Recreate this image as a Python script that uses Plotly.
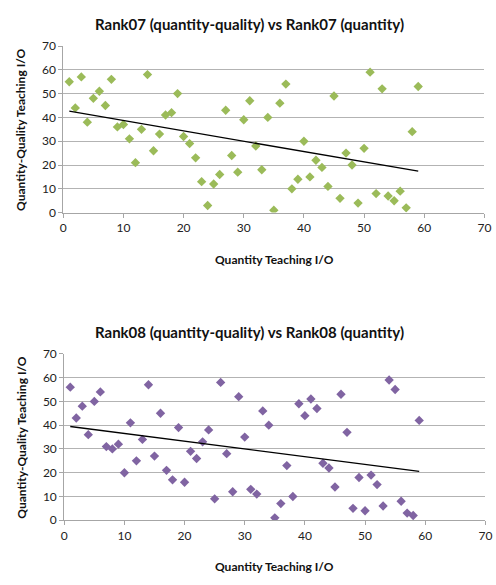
import numpy as np
import plotly.graph_objects as go

# Rank positions (x) and quantity-quality ranks (y) for both years
rank07_quantity = list(range(1, 60))
rank07_qq = [55, 44, 57, 38, 48, 51, 45, 56, 36, 37, 31, 21, 35, 58, 26, 33, 41, 42, 50, 32,
             29, 23, 13, 3, 12, 16, 43, 24, 17, 39, 47, 28, 18, 40, 1, 46, 54, 10, 14, 30,
             15, 22, 19, 11, 49, 6, 25, 20, 4, 27, 59, 8, 52, 7, 5, 9, 2, 34, 53]

rank08_quantity = list(range(1, 60))
rank08_qq = [56, 43, 48, 36, 50, 54, 31, 30, 32, 20, 41, 25, 34, 57, 27, 45, 21, 17, 39, 16,
             29, 26, 33, 38, 9, 58, 28, 12, 52, 35, 13, 11, 46, 40, 1, 7, 23, 10, 49, 44,
             51, 47, 24, 22, 14, 53, 37, 5, 18, 4, 19, 15, 6, 59, 55, 8, 3, 2, 42]

titles = ["Rank07 (quantity-quality) vs Rank07 (quantity)",
          "Rank08 (quantity-quality) vs Rank08 (quantity)"]
x_title = "Quantity Teaching I/O"
y_title = "Quantity-Quality Teaching I/O"
tick_vals = [0, 10, 20, 30, 40, 50, 60, 70]

W, H = 496, 585
FONT = "Lato"


def py(p):
    # pixel row (from top) -> paper fraction
    return 1 - p / H


def px(p):
    return p / W


panels = [
    dict(x=rank07_quantity, y=rank07_qq, color="#9BBB59", top=39, bottom=210, left=61.5),
    dict(x=rank08_quantity, y=rank08_qq, color="#8064A2", top=355, bottom=525.7, left=62.5),
]

fig = go.Figure()
annotations = []
layout_axes = {}

for i, p in enumerate(panels):
    n = "" if i == 0 else str(i + 1)
    xa, ya = "x" + n, "y" + n
    right = p["left"] + 70 * 6.14

    fig.add_trace(go.Scatter(
        x=p["x"], y=p["y"], mode="markers", xaxis=xa, yaxis=ya,
        marker=dict(symbol="diamond", size=7.2, color=p["color"], line=dict(width=0)),
        showlegend=False, hoverinfo="x+y"))

    # linear trend line fitted to the series
    slope, intercept = np.polyfit(p["x"], p["y"], 1)
    xs = np.array([min(p["x"]), max(p["x"])])
    fig.add_trace(go.Scatter(
        x=xs, y=slope * xs + intercept, mode="lines", xaxis=xa, yaxis=ya,
        line=dict(color="black", width=1.3), showlegend=False, hoverinfo="skip"))

    layout_axes["xaxis" + n] = dict(
        domain=[px(p["left"]), min(px(right), 1.0)], range=[0, 70], anchor=ya,
        tickvals=tick_vals, showgrid=False, zeroline=False,
        showline=True, linecolor="#A6A6A6", linewidth=1,
        ticks="outside", ticklen=4, tickcolor="#A6A6A6",
        ticklabeloverflow="allow",
        tickfont=dict(family=FONT, size=12, color="#222"))
    layout_axes["yaxis" + n] = dict(
        domain=[py(p["bottom"]), py(p["top"])], range=[0, 70], anchor=xa,
        tickvals=tick_vals, showgrid=True, gridcolor="#B3B3B3", gridwidth=1,
        zeroline=False, showline=True, linecolor="#A6A6A6", linewidth=1,
        ticks="outside", ticklen=4, tickcolor="#A6A6A6",
        tickfont=dict(family=FONT, size=12, color="#222"))

    annotations.append(dict(
        text="<b>%s</b>" % titles[i], x=px(252), y=py(p["top"] - 22.5),
        xref="paper", yref="paper", showarrow=False,
        font=dict(family=FONT, size=15, color="#111"),
        xanchor="center", yanchor="middle"))
    annotations.append(dict(
        text="<b>%s</b>" % x_title, x=px(277), y=py(p["bottom"] + 48),
        xref="paper", yref="paper", showarrow=False,
        font=dict(family=FONT, size=12, color="#111"),
        xanchor="center", yanchor="middle"))
    annotations.append(dict(
        text="<b>%s</b>" % y_title, x=px(18), y=py((p["top"] + p["bottom"]) / 2),
        xref="paper", yref="paper", showarrow=False, textangle=-90,
        font=dict(family=FONT, size=12, color="#111"),
        xanchor="center", yanchor="middle"))

fig.update_layout(
    width=W, height=H, margin=dict(l=0, r=0, t=0, b=0),
    paper_bgcolor="white", plot_bgcolor="white",
    annotations=annotations, **layout_axes)

fig.write_html("out.html")
